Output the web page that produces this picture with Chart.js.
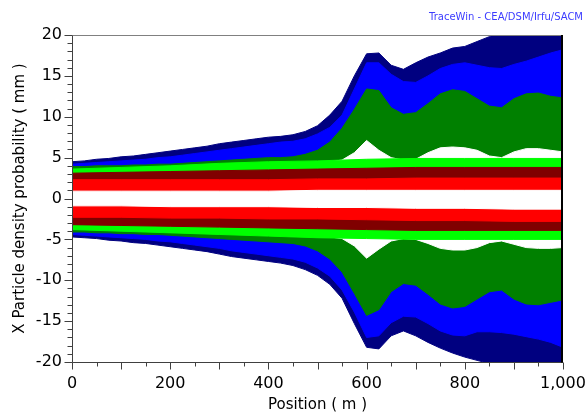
<!DOCTYPE html>
<html lang="en">
<head>
    <meta charset="UTF-8">
    <title>X Particle density probability</title>
    <script src="https://cdn.jsdelivr.net/npm/chart.js"></script>
    <style>
        body {
            margin: 0;
            background-color: #ffffff;
        }
        #wrap {
            width: 588px;
            height: 417px;
        }
    </style>
</head>
<body>
    <div id="wrap">
        <canvas id="densityChart" width="588" height="417"></canvas>
    </div>

    <script>
        // Positions (m) for the outer envelopes
        const positions = [0, 25, 50, 75, 100, 125, 150, 175, 200, 225, 250, 275, 300, 325, 350, 375, 400,
            425, 450, 475, 500, 525, 550, 575, 600, 625, 650, 675, 700, 725, 750, 775, 800, 825, 850, 875,
            900, 925, 950, 975, 1000];

        // Outer envelopes (mm)
        const navyUpper = [4.5, 4.6, 4.8, 4.9, 5.1, 5.2, 5.4, 5.6, 5.8, 6.0, 6.2, 6.4, 6.7, 6.9, 7.1, 7.3, 7.5,
            7.6, 7.8, 8.2, 8.9, 10.2, 11.9, 15.0, 17.7, 17.8, 16.3, 15.8, 16.6, 17.3, 17.8, 18.4, 18.6, 19.2,
            19.8, 20.5, 21, 21, 21, 21, 21];
        const navyLower = [-4.7, -4.8, -4.9, -5.1, -5.2, -5.4, -5.5, -5.7, -5.9, -6.1, -6.3, -6.5, -6.8, -7.1,
            -7.3, -7.5, -7.7, -7.9, -8.2, -8.7, -9.4, -10.5, -12.2, -15.3, -18.2, -18.4, -16.8, -16.2, -16.8,
            -17.6, -18.3, -18.9, -19.4, -19.8, -20.2, -20.6, -21, -21, -21, -21, -21];

        const blueUpper = [4.2, 4.3, 4.4, 4.5, 4.6, 4.7, 4.8, 5.0, 5.1, 5.3, 5.5, 5.7, 5.9, 6.1, 6.3, 6.5, 6.7,
            6.9, 7.0, 7.3, 7.9, 8.7, 10.2, 13.4, 16.6, 16.6, 15.2, 14.3, 14.2, 15.0, 15.9, 16.4, 16.6, 16.3,
            16.0, 15.9, 16.4, 16.8, 17.3, 17.8, 18.2];
        const blueLower = [-4.4, -4.5, -4.6, -4.7, -4.8, -4.9, -5.0, -5.2, -5.3, -5.5, -5.7, -5.9, -6.1, -6.4,
            -6.6, -6.8, -7.0, -7.2, -7.4, -7.8, -8.5, -9.5, -11.2, -13.9, -17.0, -16.8, -15.2, -14.4, -14.5,
            -15.3, -16.2, -16.7, -16.8, -16.3, -16.3, -16.4, -16.6, -16.9, -17.2, -17.6, -18.2];

        const greenUpper = [3.9, 3.9, 4.0, 4.0, 4.0, 4.1, 4.1, 4.2, 4.2, 4.3, 4.4, 4.5, 4.6, 4.7, 4.8, 4.9, 5.0,
            5.0, 5.1, 5.4, 5.9, 6.9, 8.6, 10.9, 13.4, 13.2, 11.1, 10.3, 10.5, 11.6, 12.8, 13.3, 13.1, 12.2,
            11.3, 11.1, 12.2, 12.8, 12.9, 12.5, 12.3];
        const greenLower = [-4.1, -4.1, -4.2, -4.2, -4.3, -4.3, -4.4, -4.4, -4.5, -4.6, -4.7, -4.8, -4.9, -5.0,
            -5.1, -5.2, -5.3, -5.4, -5.5, -5.8, -6.4, -7.4, -9.0, -11.6, -14.3, -13.6, -11.4, -10.4, -10.6,
            -11.7, -12.9, -13.4, -13.2, -12.3, -11.4, -11.2, -12.3, -12.9, -13.0, -12.7, -12.4];

        // Empty gap between the green halo and the core
        const gapUpper = [3.5, 3.5, 3.5, 3.6, 3.6, 3.6, 3.7, 3.7, 3.8, 3.8, 3.9, 3.9, 4.0, 4.0, 4.1, 4.1, 4.2,
            4.2, 4.3, 4.3, 4.4, 4.5, 4.7, 5.6, 7.1, 5.9, 5.0, 4.7, 4.8, 5.6, 6.2, 6.3, 6.2, 5.9, 5.2, 5.0, 5.7,
            6.1, 6.1, 5.9, 5.7];
        const gapLower = [-3.7, -3.7, -3.8, -3.8, -3.9, -3.9, -4.0, -4.0, -4.1, -4.1, -4.2, -4.2, -4.3, -4.3,
            -4.4, -4.4, -4.5, -4.5, -4.6, -4.6, -4.7, -4.7, -4.9, -5.8, -7.3, -6.2, -5.2, -4.9, -5.0, -5.5,
            -6.1, -6.3, -6.3, -6.0, -5.4, -5.2, -5.6, -6.0, -6.1, -6.1, -6.0];

        // Positions (m) for the beam core
        const corePositions = [0, 100, 200, 300, 400, 500, 600, 700, 800, 900, 1000];

        const limeUpper = [3.6, 3.8, 4.0, 4.3, 4.5, 4.6, 4.8, 4.9, 4.9, 4.9, 4.9];
        const limeLower = [-3.8, -4.0, -4.2, -4.4, -4.6, -4.8, -4.9, -5.0, -5.0, -5.0, -5.0];
        const maroonUpper = [3.1, 3.2, 3.3, 3.4, 3.5, 3.6, 3.7, 3.8, 3.8, 3.8, 3.8];
        const maroonLower = [-3.2, -3.3, -3.4, -3.5, -3.6, -3.7, -3.8, -3.9, -3.9, -3.9, -3.9];
        const redUpper = [2.3, 2.3, 2.3, 2.3, 2.3, 2.4, 2.4, 2.5, 2.5, 2.5, 2.5];
        const redLower = [-2.3, -2.3, -2.4, -2.4, -2.5, -2.5, -2.6, -2.7, -2.7, -2.8, -2.8];
        const centreUpper = [0.9, 0.9, 0.9, 0.9, 0.9, 1.0, 1.0, 1.0, 1.0, 1.0, 1.0];
        const centreLower = [-0.9, -0.9, -1.0, -1.0, -1.0, -1.1, -1.1, -1.2, -1.2, -1.3, -1.3];

        const xTickLabels = [0, 200, 400, 600, 800, 1000];
        const yTickLabels = [-20, -15, -10, -5, 0, 5, 10, 15, 20];

        const FONT = 'DejaVu Sans';

        function points(xs, ys) {
            return xs.map((x, i) => ({ x: x, y: ys[i] }));
        }

        // bands are filled to zero, outer bands are painted first
        function band(xs, ys, color, order, fill) {
            return {
                data: points(xs, ys),
                backgroundColor: color,
                borderColor: color,
                borderWidth: 1,
                pointRadius: 0,
                tension: 0,
                fill: fill === undefined ? 'origin' : fill,
                order: order
            };
        }

        const datasets = [
            band(positions, navyUpper, '#000080', 8),
            band(positions, navyLower, '#000080', 8),
            band(positions, blueUpper, '#0000ff', 7),
            band(positions, blueLower, '#0000ff', 7),
            band(positions, greenUpper, '#008000', 6),
            band(positions, greenLower, '#008000', 6),
            band(positions, gapUpper, '#ffffff', 5),
            band(positions, gapLower, '#ffffff', 5),
            band(corePositions, limeUpper, '#00ff00', 4),
            band(corePositions, limeLower, '#00ff00', 4),
            band(corePositions, maroonUpper, '#800000', 3),
            band(corePositions, maroonLower, '#800000', 3),
            band(corePositions, redUpper, '#ff0000', 2),
            band(corePositions, redLower, '#ff0000', 2),
            // the empty centre is one area, so no seam is left at zero
            band(corePositions, centreUpper, '#ffffff', 1, '+1'),
            band(corePositions, centreLower, '#ffffff', 1, false)
        ];

        // frame, minor/major ticks and the caption
        const framePlugin = {
            id: 'frame',
            afterDraw(chart) {
                const ctx = chart.ctx;
                const area = chart.chartArea;
                const xs = chart.scales.x;
                const ys = chart.scales.y;
                const left = Math.round(area.left) + 0.5;
                const right = Math.round(area.right);
                const top = Math.round(area.top) + 0.5;
                const bottom = Math.round(area.bottom) + 0.5;

                ctx.save();
                ctx.lineWidth = 1;

                ctx.strokeStyle = '#808080';
                ctx.beginPath();
                ctx.moveTo(left, top);
                ctx.lineTo(right, top);
                ctx.stroke();

                ctx.strokeStyle = '#404040';
                ctx.beginPath();
                ctx.moveTo(left, top);
                ctx.lineTo(left, bottom);
                ctx.lineTo(right, bottom);
                ctx.stroke();

                // y ticks every 1 mm, longer every 5 mm
                for (let v = -20; v <= 20; v++) {
                    const py = Math.round(ys.getPixelForValue(v)) + 0.5;
                    const len = v % 5 === 0 ? 8 : 5;
                    ctx.beginPath();
                    ctx.moveTo(left - len, py);
                    ctx.lineTo(left, py);
                    ctx.stroke();
                }

                // x ticks every 50 m, longer every 100 m
                for (let v = 0; v <= 1000; v += 50) {
                    const px = Math.round(xs.getPixelForValue(v)) + 0.5;
                    const len = v % 100 === 0 ? 7 : 4;
                    ctx.beginPath();
                    ctx.moveTo(px, bottom);
                    ctx.lineTo(px, bottom + len);
                    ctx.stroke();
                }

                ctx.strokeStyle = '#000000';
                ctx.lineWidth = 2;
                ctx.beginPath();
                ctx.moveTo(right - 1, top - 0.5);
                ctx.lineTo(right - 1, bottom);
                ctx.stroke();

                ctx.fillStyle = '#3c3cff';
                ctx.font = '10px ' + FONT;
                ctx.textAlign = 'right';
                ctx.textBaseline = 'alphabetic';
                ctx.fillText('TraceWin - CEA/DSM/Irfu/SACM', 583, 20);
                ctx.restore();
            }
        };

        const ctx = document.getElementById('densityChart').getContext('2d');
        const densityChart = new Chart(ctx, {
            type: 'line',
            data: { datasets: datasets },
            plugins: [framePlugin],
            options: {
                responsive: false,
                animation: false,
                layout: { padding: { top: 35, right: 25, left: 0, bottom: 0 } },
                plugins: {
                    legend: { display: false },
                    tooltip: { enabled: false }
                },
                scales: {
                    x: {
                        type: 'linear',
                        min: 0,
                        max: 1000,
                        afterFit: (scale) => {
                            scale.height = 55;
                            scale.paddingLeft = 0;
                            scale.paddingRight = 0;
                        },
                        afterBuildTicks: (scale) => {
                            scale.ticks = xTickLabels.map(v => ({ value: v }));
                        },
                        grid: { display: false, drawTicks: false },
                        border: { display: false },
                        ticks: {
                            color: '#000',
                            padding: 12,
                            maxRotation: 0,
                            font: { family: FONT, size: 16 }
                        },
                        title: {
                            display: true,
                            text: 'Position ( m )',
                            color: '#000',
                            font: { family: FONT, size: 15 },
                            padding: { top: 0, bottom: 3 }
                        }
                    },
                    y: {
                        min: -20,
                        max: 20,
                        afterFit: (scale) => {
                            scale.width = 72;
                            scale.paddingTop = 0;
                            scale.paddingBottom = 0;
                        },
                        afterBuildTicks: (scale) => {
                            scale.ticks = yTickLabels.map(v => ({ value: v }));
                        },
                        grid: { display: false, drawTicks: false },
                        border: { display: false },
                        ticks: {
                            color: '#000',
                            padding: 10,
                            font: { family: FONT, size: 16 }
                        },
                        title: {
                            display: true,
                            text: 'X Particle density probability ( mm )',
                            color: '#000',
                            font: { family: FONT, size: 15 },
                            padding: { top: 11, bottom: 0 }
                        }
                    }
                }
            }
        });
    </script>
</body>
</html>
